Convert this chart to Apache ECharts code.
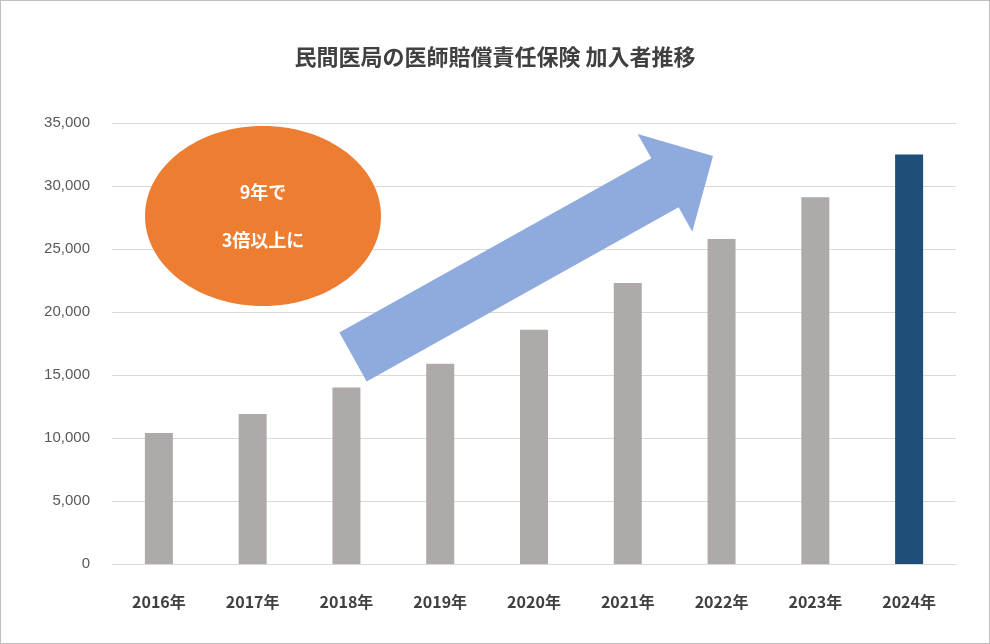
<!DOCTYPE html>
<html><head><meta charset="utf-8">
<script src="https://cdn.jsdelivr.net/npm/echarts@6/dist/echarts.min.js"></script>
<style>html,body{margin:0;padding:0;background:#fff}#c{width:990px;height:644px;box-sizing:border-box;border:1px solid #bfbfbf}</style>
</head><body><div id="c"></div>
<script>
const categories=['2016年','2017年','2018年','2019年','2020年','2021年','2022年','2023年','2024年'];
const values=[10400,11900,14000,15900,18600,22300,25800,29100,32500];
const chart=echarts.init(document.getElementById('c'));
function arrow(x0,y0,x1,y1,hw,hl,hh){
  const dx=x1-x0,dy=y1-y0,L=Math.hypot(dx,dy),ux=dx/L,uy=dy/L,px=-uy,py=ux;
  const bx=x1-ux*hl,by=y1-uy*hl;
  return [[x0+px*hw,y0+py*hw],[bx+px*hw,by+py*hw],[bx+px*hh,by+py*hh],[x1,y1],[bx-px*hh,by-py*hh],[bx-px*hw,by-py*hw],[x0-px*hw,y0-py*hw]];
}
chart.setOption({
  animation:false,
  title:{text:'民間医局の医師賠償責任保険 加入者推移',left:'center',top:40,textStyle:{fontFamily:'Noto Sans CJK JP',fontSize:22,fontWeight:'bold',color:'#404040'}},
  grid:{left:111,right:33,top:122,bottom:79},
  xAxis:{type:'category',data:categories,axisTick:{show:false},axisLine:{lineStyle:{color:'#d9d9d9'}},
    axisLabel:{color:'#404040',fontSize:16,fontWeight:'bold',fontFamily:'Noto Sans CJK JP',margin:30}},
  yAxis:{type:'value',min:0,max:35000,interval:5000,axisLabel:{color:'#595959',fontSize:15,margin:22,formatter:v=>v.toLocaleString('en-US')},
    splitLine:{lineStyle:{color:'#d9d9d9'}}},
  series:[{type:'bar',barWidth:28,data:values.map((v,i)=>({value:v,itemStyle:{color:i===values.length-1?'#1F4E79':'#AEAAAA'}}))}],
  graphic:[
    {type:'polygon',shape:{points:arrow(352,356,712,155,28,55,56)},style:{fill:'#8FAADC'},z:10},
    {type:'ellipse',shape:{cx:262,cy:215,rx:118,ry:90},style:{fill:'#ED7D31'},z:10},
    {type:'text',x:262,y:215,style:{text:'9年で\n\n3倍以上に',fill:'#fff',font:'bold 18px "Noto Sans CJK JP"',align:'center',verticalAlign:'middle',lineHeight:24},z:11}
  ]
});
</script></body></html>
